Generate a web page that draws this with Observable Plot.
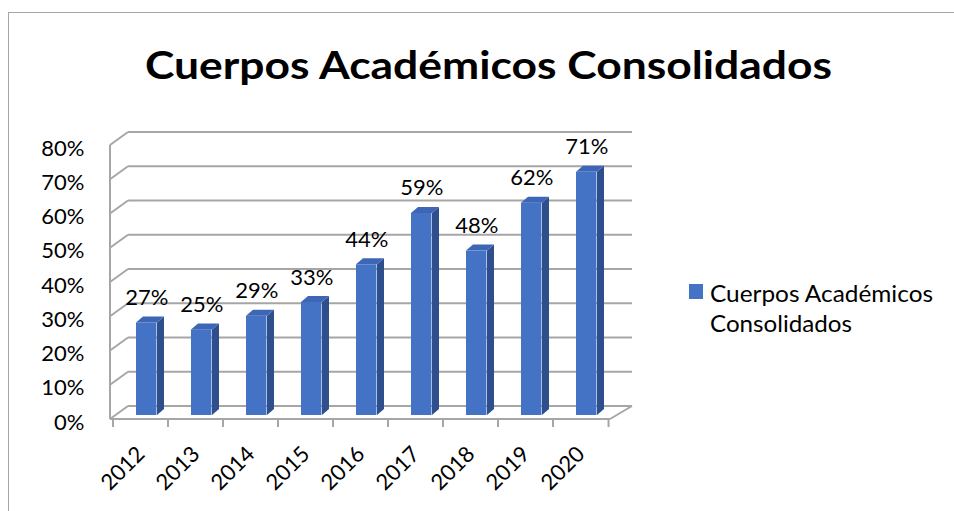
<!DOCTYPE html>
<html><head><meta charset="utf-8">
<script src="https://cdn.jsdelivr.net/npm/d3@7"></script>
<script src="https://cdn.jsdelivr.net/npm/@observablehq/plot@0.6"></script>
<style>
html,body{margin:0;padding:0;background:#fff;}
#wrap{position:relative;width:954px;height:511px;overflow:hidden;font-family:Lato,sans-serif;background:#fff;}
#frame{position:absolute;left:8px;top:12px;width:1000px;height:600px;border-left:1px solid #a6a6a6;border-top:1px solid #a6a6a6;}
#chart{position:absolute;left:0;top:0;}
#overlay{position:absolute;left:0;top:0;}
</style></head><body>
<div id="wrap"><div id="frame"></div><div id="chart"></div><svg id="overlay" width="954" height="511"></svg></div>
<script>
const titleText = "Cuerpos Académicos Consolidados";
const legendLines = ["Cuerpos Académicos", "Consolidados"];
const years = ["2012","2013","2014","2015","2016","2017","2018","2019","2020"];
const values = [0.27,0.25,0.29,0.33,0.44,0.59,0.48,0.62,0.71];
const valueLabels = ["27%","25%","29%","33%","44%","59%","48%","62%","71%"];
const yTicks = [0,0.1,0.2,0.3,0.4,0.5,0.6,0.7,0.8];
const yTickLabels = ["0%","10%","20%","30%","40%","50%","60%","70%","80%"];

const data = years.map((year,i)=>({year, value: values[i], label: valueLabels[i]}));

const FRONT = "#4472C4", SIDE = "#2E4F8C", TOP = "#3D67B6", GRID = "#a6a6a6";
const W = 954, H = 511, ML = 110, MR = 344, MT = 145, MB = 92;
const BW = (W - ML - MR) / years.length;
const INSET_L = 23, FACE_W = 21, BAR_DY = -4, BDX = 7, BDY = -6;
const WALL_DX = 18, WALL_DXR = 22, WALL_DY = -13;

function walls(index, scales, values, dims) {
  const x = scales.x, y = scales.y;
  const x0 = dims.marginLeft, x1 = dims.width - dims.marginRight, y0 = y(0);
  const g = d3.create("svg:g").attr("fill","none").attr("stroke",GRID).attr("stroke-width",2);
  const ln = (a,b,c,d) => g.append("line").attr("x1",a).attr("y1",b).attr("x2",c).attr("y2",d);
  for (const t of yTicks) {
    const yy = y(t);
    ln(x0 + WALL_DX, yy + WALL_DY, x1 + WALL_DXR, yy + WALL_DY);
    ln(x0, yy, x0 + WALL_DX, yy + WALL_DY);
  }
  ln(x0, y(yTicks[0]), x0, y(yTicks[yTicks.length-1]));
  ln(x0, y0, x1, y0);
  ln(x1, y0, x1 + WALL_DXR, y0 + WALL_DY);
  const bounds = years.map(v => x(v)).concat([x(years[years.length-1]) + BW]);
  for (const xb of bounds) ln(xb, y0, xb, y0 + 8);
  return g.node();
}

function barFaces(index, scales) {
  const x = scales.x, y = scales.y;
  const g = d3.create("svg:g");
  for (const d of data) {
    const xl = x(d.year) + INSET_L, xr = xl + FACE_W;
    const yb = y(0) + BAR_DY, yt = y(d.value) + BAR_DY;
    g.append("path").attr("fill", SIDE)
      .attr("d", `M${xr},${yb}L${xr+BDX},${yb+BDY}L${xr+BDX},${yt+BDY}L${xr},${yt}Z`);
    g.append("path").attr("fill", TOP)
      .attr("d", `M${xl},${yt}L${xr},${yt}L${xr+BDX},${yt+BDY}L${xl+BDX},${yt+BDY}Z`);
  }
  return g.node();
}

const chart = Plot.plot({
  width: W, height: H,
  marginLeft: ML, marginRight: MR, marginTop: MT, marginBottom: MB,
  style: {fontFamily: "Lato, sans-serif", fontSize: "22px", color: "black", background: "transparent", overflow: "visible"},
  x: {type: "band", domain: years, padding: 0, axis: null},
  y: {domain: [0, 0.8], axis: null},
  marks: [
    walls,
    Plot.barY(data, {x: "year", y: "value", fill: FRONT, insetLeft: INSET_L, insetRight: BW - INSET_L - FACE_W, dy: BAR_DY}),
    barFaces,
    Plot.text(data, {x: "year", y: "value", text: "label", dx: INSET_L + FACE_W/2 - BW/2, dy: BAR_DY - 25, fontSize: 22, fill: "black"}),
    Plot.text(yTicks, {y: d => d, text: (d,i) => yTickLabels[i], frameAnchor: "left", textAnchor: "end", dx: -26, dy: 3, fontSize: 22, fill: "black"}),
    Plot.text(years, {x: d => d, text: d => d, frameAnchor: "bottom", rotate: -45, textAnchor: "end", lineAnchor: "middle", dy: 31, dx: 0, fontSize: 22, fill: "black"})
  ]
});
document.getElementById("chart").appendChild(chart);

const ov = d3.select("#overlay");
ov.append("text").attr("x", 488.5).attr("y", 79).attr("text-anchor","middle")
  .attr("font-family","Lato, sans-serif").attr("font-weight",700).attr("font-size",39)
  .attr("textLength",687).attr("lengthAdjust","spacingAndGlyphs").attr("fill","black").text(titleText);
ov.append("rect").attr("x",689).attr("y",284).attr("width",14).attr("height",15).attr("fill",FRONT);
const legW = [223, 142];
legendLines.forEach((t,i) => {
  ov.append("text").attr("x",710).attr("y",301.5 + i*30).attr("font-family","Lato, sans-serif")
    .attr("font-size",23).attr("textLength",legW[i]).attr("lengthAdjust","spacingAndGlyphs").attr("fill","black").text(t);
});
</script>
</body></html>
